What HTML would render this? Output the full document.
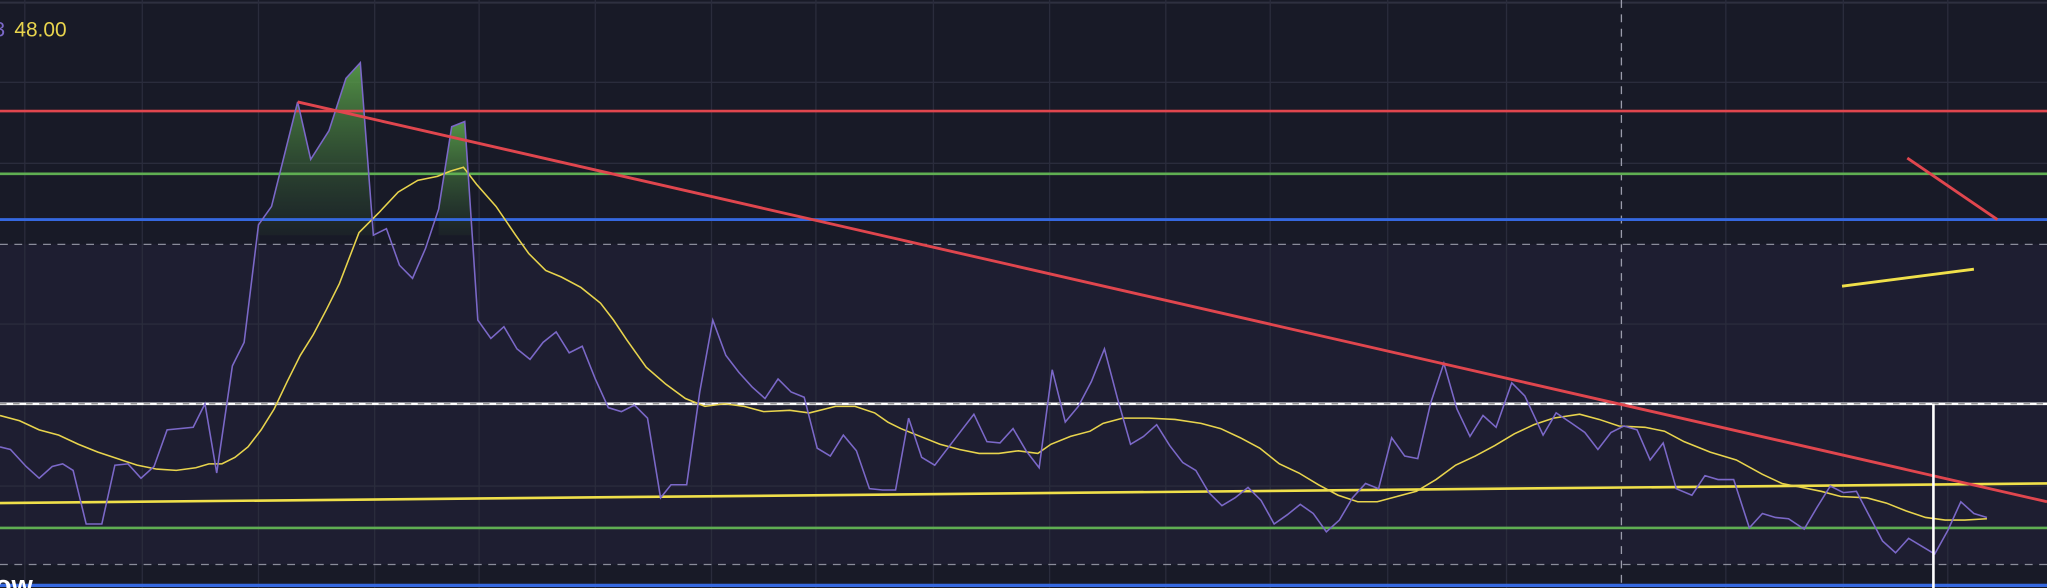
<!DOCTYPE html>
<html><head><meta charset="utf-8"><style>
html,body{margin:0;padding:0;background:#181a27;overflow:hidden}
svg{display:block}
</style></head><body>
<svg width="2047" height="588" viewBox="0 0 1568 450" preserveAspectRatio="none" xmlns="http://www.w3.org/2000/svg">
<defs>
<linearGradient id="g" x1="0" y1="0" x2="0" y2="1">
<stop offset="0" stop-color="#5aa04a" stop-opacity="0.9"/>
<stop offset="1" stop-color="#3a6a34" stop-opacity="0.1"/>
</linearGradient>
</defs>
<rect width="1568" height="450" fill="#181a27"/>
<rect x="0" y="187" width="1568" height="245" fill="#1e1e31"/>
<line x1="0" y1="2" x2="1568" y2="2" stroke="#2e3040" stroke-width="1.5"/>
<g stroke="#2a2c3c" stroke-width="1">
<line x1="19" y1="0" x2="19" y2="450"/><line x1="109" y1="0" x2="109" y2="450"/><line x1="198" y1="0" x2="198" y2="450"/><line x1="287" y1="0" x2="287" y2="450"/><line x1="367" y1="0" x2="367" y2="450"/><line x1="456" y1="0" x2="456" y2="450"/><line x1="545" y1="0" x2="545" y2="450"/><line x1="625" y1="0" x2="625" y2="450"/><line x1="715" y1="0" x2="715" y2="450"/><line x1="804" y1="0" x2="804" y2="450"/><line x1="893" y1="0" x2="893" y2="450"/><line x1="973" y1="0" x2="973" y2="450"/><line x1="1063" y1="0" x2="1063" y2="450"/><line x1="1154" y1="0" x2="1154" y2="450"/><line x1="1322" y1="0" x2="1322" y2="450"/><line x1="1412" y1="0" x2="1412" y2="450"/><line x1="1492" y1="0" x2="1492" y2="450"/>
<line x1="0" y1="63" x2="1568" y2="63"/><line x1="0" y1="125" x2="1568" y2="125"/><line x1="0" y1="248" x2="1568" y2="248"/><line x1="0" y1="372" x2="1568" y2="372"/>
</g>
<line x1="1242" y1="0" x2="1242" y2="450" stroke="#9a9cab" stroke-width="1" stroke-dasharray="6,5"/>
<line x1="0" y1="187" x2="1568" y2="187" stroke="#8a8c9a" stroke-width="1" stroke-dasharray="6,5"/>
<line x1="0" y1="432" x2="1568" y2="432" stroke="#8a8c9a" stroke-width="1" stroke-dasharray="6,5"/>
<polygon fill="url(#g)" points="198,180 198,172 208,158 219,114 228,78 238,122 252,100 265,60 276,48 286,180"/>
<polygon fill="url(#g)" points="336,180 336,160 346,97 356,93 362,180"/>
<line x1="0" y1="85" x2="1568" y2="85" stroke="#e0464e" stroke-width="2"/>
<line x1="0" y1="133" x2="1568" y2="133" stroke="#5fae52" stroke-width="2"/>
<line x1="0" y1="168" x2="1568" y2="168" stroke="#3568e0" stroke-width="2.2"/>
<line x1="0" y1="309" x2="1568" y2="309" stroke="#ffffff" stroke-width="2"/>
<line x1="0" y1="309" x2="1568" y2="309" stroke="#888" stroke-width="1" stroke-dasharray="5,5"/>
<line x1="0" y1="404" x2="1568" y2="404" stroke="#5fae52" stroke-width="2"/>
<line x1="0" y1="448" x2="1568" y2="448" stroke="#3568e0" stroke-width="2.5"/>
<line x1="0" y1="385" x2="1568" y2="370" stroke="#f0e04a" stroke-width="2"/>
<polyline fill="none" stroke="#e8d44d" stroke-width="1.2" points="0,318 15,322 30,329 45,333 60,340 75,346 90,351 105,356 120,359 135,360 150,358 160,355 170,355 180,350 190,342 200,329 210,313 220,292 230,272 240,256 250,237 260,217 275,178 290,163 305,147 320,138 335,135 345,131 355,128 365,141 380,158 395,180 405,194 418,207 430,212 445,220 460,232 470,245 480,260 495,281 510,294 525,305 540,311 555,309 570,311 585,315 605,314 620,316 640,311 655,311 670,316 680,323 690,328 705,334 720,340 735,344 750,347 765,347 780,345 795,347 805,340 820,334 835,330 845,324 860,320 880,320 900,321 920,324 935,328 950,335 965,343 980,355 995,362 1010,371 1025,379 1040,384 1055,384 1070,380 1085,376 1100,367 1115,356 1130,349 1145,341 1160,332 1175,325 1190,320 1210,317 1225,321 1240,326 1260,327 1275,330 1290,338 1310,346 1330,352 1350,363 1365,370 1380,373 1395,376 1410,380 1430,381 1445,385 1460,391 1475,396 1490,398 1505,398 1522,397"/>
<polyline fill="none" stroke="#7b68c8" stroke-width="1.2" points="0,342 8,344 20,357 30,366 40,357 48,355 56,360 66,401 78,401 88,356 98,355 108,366 118,357 128,329 148,327 157,309 166,362 178,280 187,262 198,172 208,158 219,114 228,78 238,122 252,100 265,60 276,48 286,180 296,175 306,203 316,213 326,190 336,160 346,97 356,93 366,245 376,259 386,250 396,267 406,275 416,262 426,254 436,270 446,265 456,290 466,312 476,315 486,310 496,320 506,381 514,371 526,371 536,300 546,245 556,272 566,285 576,296 586,305 596,290 606,300 616,304 626,343 636,349 646,333 656,345 666,374 676,375 686,375 696,320 706,350 716,356 726,343 736,330 746,317 756,338 766,339 776,328 786,345 796,358 806,283 816,323 826,311 836,292 846,267 856,305 866,340 876,334 886,325 896,341 906,354 916,360 926,377 936,387 946,381 956,373 966,383 976,401 986,394 996,386 1006,393 1016,407 1026,398 1036,381 1046,370 1056,374 1066,335 1076,349 1086,351 1096,308 1106,278 1116,313 1126,334 1136,318 1146,327 1158,293 1168,303 1182,333 1192,316 1204,324 1214,331 1224,344 1234,331 1244,326 1254,329 1264,352 1274,339 1284,374 1296,379 1306,364 1316,367 1328,367 1340,404 1350,393 1360,396 1370,397 1382,405 1392,388 1402,372 1412,377 1422,376 1442,414 1452,423 1462,412 1472,418 1482,424 1492,406 1502,384 1512,393 1522,396"/>
<line x1="228" y1="78" x2="1568" y2="384" stroke="#e0464e" stroke-width="2.2"/>
<line x1="1461" y1="121" x2="1530" y2="168" stroke="#e0464e" stroke-width="2.2"/>
<line x1="1411" y1="219" x2="1512" y2="206" stroke="#f0e04a" stroke-width="2.2"/>
<line x1="1481" y1="309" x2="1481" y2="450" stroke="#ffffff" stroke-width="2"/>
<text x="-5" y="28" font-family="Liberation Sans, sans-serif" font-size="16" fill="#7b68c8">3</text>
<text x="11" y="28" font-family="Liberation Sans, sans-serif" font-size="16" fill="#e8d44d">48.00</text>
<text x="-4" y="455" font-family="Liberation Sans, sans-serif" font-size="21" font-weight="bold" fill="#ffffff">ow</text>
</svg>
</body></html>
